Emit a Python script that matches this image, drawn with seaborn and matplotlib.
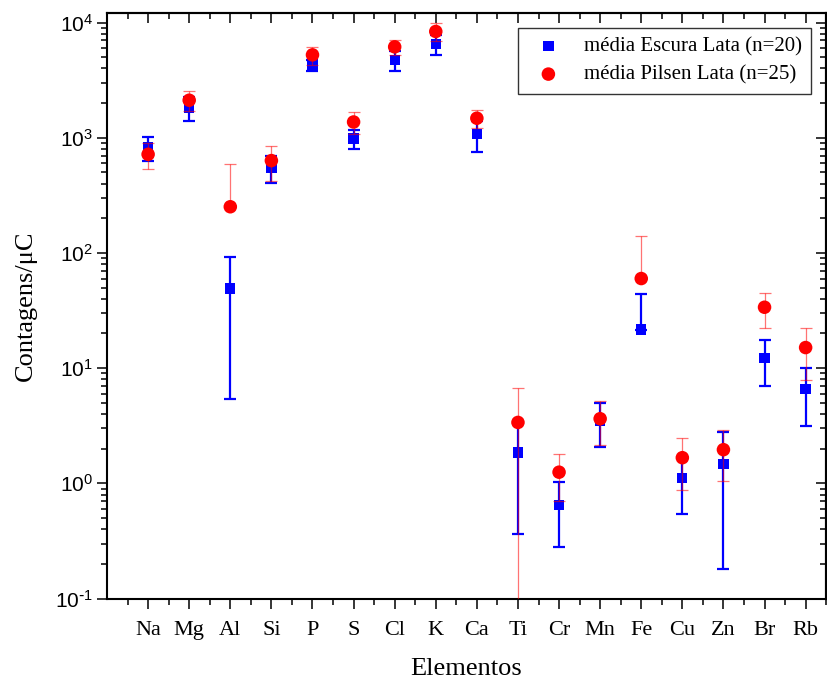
import numpy as np
import pandas as pd
import matplotlib
matplotlib.use("Agg")
import matplotlib.pyplot as plt
import matplotlib.ticker as mticker
import seaborn as sns

# values (mean and standard deviation)
elementos = ["Na", "Mg", "Al", "Si", "P", "S", "Cl", "K", "Ca",
             "Ti", "Cr", "Mn", "Fe", "Cu", "Zn", "Br", "Rb"]

escura_media = [822, 1830, 49.1, 551, 4270, 984, 4750, 6500, 1080,
                1.85, 0.65, 3.52, 21.6, 1.11, 1.48, 12.3, 6.63]
escura_dp = [190, 430, 43.7, 143, 430, 180, 940, 1250, 325,
             1.49, 0.37, 1.44, 22.6, 0.57, 1.30, 5.3, 3.5]

pilsen_media = [719, 2120, 252, 634, 5250, 1372, 6160, 8380, 1479,
                3.38, 1.25, 3.64, 60, 1.67, 1.96, 33.8, 15.1]
pilsen_dp = [178, 410, 345, 215, 950, 290, 900, 1450, 270,
             3.29, 0.55, 1.5, 80, 0.8, 0.92, 11.3, 7.2]

sns.set_style("ticks", {"axes.edgecolor": "black", "xtick.color": "black",
                        "ytick.color": "black", "text.color": "black",
                        "axes.labelcolor": "black"})
plt.rcParams["font.family"] = ["Liberation Serif", "DejaVu Serif"]
plt.rcParams["axes.unicode_minus"] = False

df = pd.DataFrame({
    "pos": np.arange(1, len(elementos) + 1),
    "elemento": elementos,
    "escura": escura_media, "escura_dp": escura_dp,
    "pilsen": pilsen_media, "pilsen_dp": pilsen_dp,
})


def lower_err(media, dp):
    # negative lower limits are not drawn on a log axis
    media = np.asarray(media, float)
    dp = np.asarray(dp, float)
    return np.where(media - dp > 0, dp, 0.0)


def pot10(v, pos):
    e = int(round(np.log10(v)))
    s = str(e) if e >= 0 else r"\text{-}" + str(-e)
    return r"$\mathdefault{10^{" + s + "}}$"


fig = plt.figure(figsize=(8.27, 6.82), dpi=100)
ax = fig.add_axes([0.1294, 0.1224, 0.8696, 0.859])
ax.set_yscale("log")

# blue series
ax.errorbar(df["pos"], df["escura"],
            yerr=[lower_err(df["escura"], df["escura_dp"]), df["escura_dp"]],
            fmt="none", ecolor="#0000ff", elinewidth=1.6, capsize=4.6,
            capthick=1.6, zorder=2)
sns.scatterplot(data=df, x="pos", y="escura", marker="s", color="#0000ff",
                s=55, edgecolor="none", ax=ax, zorder=3,
                label="média Escura Lata (n=20)")

# red series
ax.errorbar(df["pos"], df["pilsen"],
            yerr=[lower_err(df["pilsen"], df["pilsen_dp"]), df["pilsen_dp"]],
            fmt="none", ecolor="#ff0000", elinewidth=0.9, capsize=4.6,
            capthick=0.9, alpha=0.55, zorder=4)
sns.scatterplot(data=df, x="pos", y="pilsen", marker="o", color="#ff0000",
                s=95, edgecolor="none", ax=ax, zorder=5,
                label="média Pilsen Lata (n=25)")

ax.set_xlim(0, 17.5)
ax.set_ylim(0.1, 1.22e4)

ax.set_xticks(df["pos"])
ax.set_xticklabels(elementos, fontsize=16)
ax.set_xticks(np.arange(0.5, 17.6, 1.0), minor=True)
ax.yaxis.set_major_formatter(mticker.FuncFormatter(pot10))
ax.tick_params(axis="both", which="major", direction="out", length=7,
               width=1.1, pad=6)
ax.tick_params(axis="x", which="major", pad=9)
ax.tick_params(axis="both", which="minor", direction="out", length=4,
               width=1.1)
ax.tick_params(axis="y", labelsize=15, labelfontfamily="Liberation Sans",
               pad=3)

for sp in ax.spines.values():
    sp.set_linewidth(1.5)

# mirrored ticks pointing inwards on top and right
top = ax.secondary_xaxis("top")
top.set_xticks(df["pos"])
top.set_xticks(np.arange(0.5, 17.6, 1.0), minor=True)
top.tick_params(which="major", direction="in", length=7, width=1.1,
                labeltop=False)
top.tick_params(which="minor", direction="in", length=4, width=1.1)
top.spines["top"].set_linewidth(1.5)

right = ax.secondary_yaxis("right")
right.tick_params(which="major", direction="in", length=7, width=1.1,
                  labelright=False)
right.tick_params(which="minor", direction="in", length=4, width=1.1)
right.spines["right"].set_linewidth(1.5)

ax.set_xlabel("Elementos", fontsize=19, labelpad=13)
ax.set_ylabel("Contagens/μC", fontsize=19, labelpad=13)

leg = ax.legend(loc="upper right", fontsize=15, frameon=True, fancybox=False,
                edgecolor="black", borderaxespad=0.72, handlelength=2.0,
                handletextpad=0.7, borderpad=0.45, labelspacing=0.4)
leg.get_frame().set_linewidth(1.0)

plt.savefig("out.png", dpi=100)
